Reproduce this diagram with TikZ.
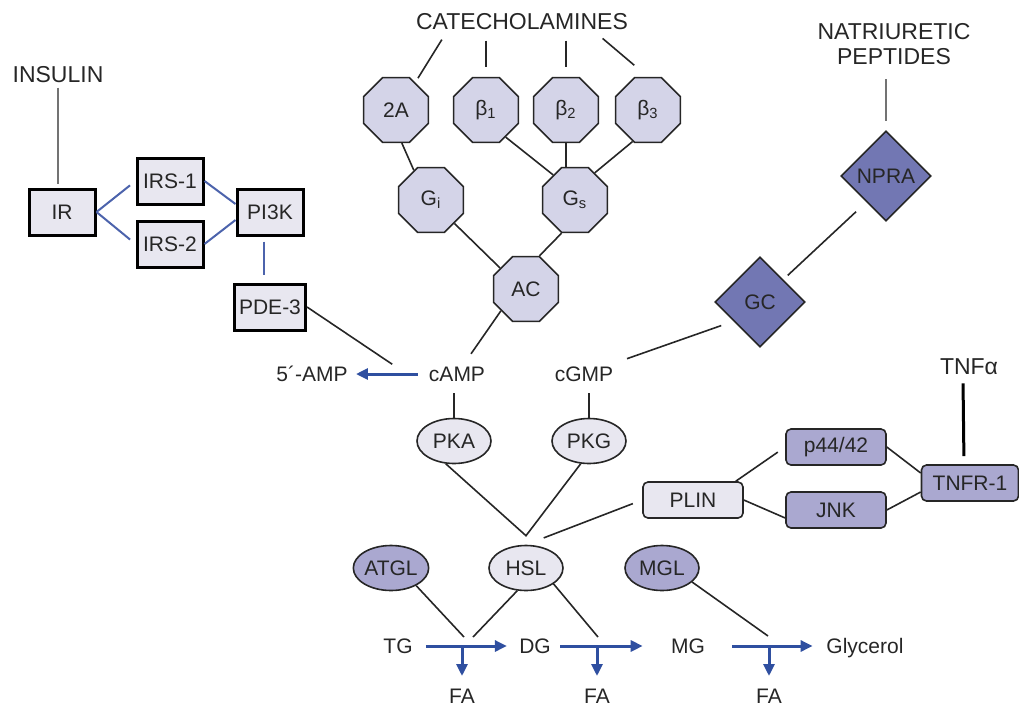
\documentclass[tikz,border=0pt]{standalone}
\usepackage{fontspec}
\setmainfont{Liberation Sans}
\usetikzlibrary{shapes.geometric,arrows.meta}

\definecolor{octfill}{HTML}{D4D4E8}
\definecolor{lightfill}{HTML}{E8E7F0}
\definecolor{midfill}{HTML}{AAA8D0}
\definecolor{darkfill}{HTML}{7277B3}
\definecolor{pathblue}{HTML}{2F4FA0}
\definecolor{insblue}{HTML}{4C63AC}
\definecolor{txt}{HTML}{262626}

\begin{document}
\begin{tikzpicture}[x=0.5pt,y=-0.5pt,
    every node/.style={font=\fontsize{10.5}{12}\selectfont, text=txt},
    met/.style={inner sep=2pt, text height=7.6pt, text depth=0pt},
    headline/.style={inner sep=2pt, font=\fontsize{11.5}{12.75}\selectfont, align=center},
    insbox/.style={draw=black, line width=1.5pt, fill=lightfill, minimum width=33pt, minimum height=23pt, inner sep=1pt},
    octa/.style={regular polygon, regular polygon sides=8, draw=black!85, line width=0.8pt, fill=octfill, minimum size=35pt, inner sep=0pt},
    dia/.style={diamond, aspect=1, draw=black!85, line width=0.8pt, fill=darkfill, minimum size=45pt, inner sep=0pt},
    kin/.style={ellipse, draw=black!85, line width=0.8pt, fill=lightfill, minimum width=37pt, minimum height=22.5pt, inner sep=0pt},
    lip/.style={kin, fill=midfill},
    rbox/.style={rounded corners=2.5pt, draw=black!85, line width=0.8pt, fill=midfill, minimum width=50pt, minimum height=18pt},
    link/.style={draw=black!85, line width=0.8pt},
    greylink/.style={draw=black!55, line width=0.8pt},
    inslink/.style={draw=insblue, line width=1pt},
    flow/.style={draw=pathblue, line width=1.5pt, -{Triangle[length=6pt,width=5.5pt]}}]
    \useasboundingbox (0,0) rectangle (1019,708);

    \node[headline] (insulin) at (58,75) {INSULIN};
    \node[insbox] (ir) at (62,212) {IR};
    \node[insbox] (irs1) at (170,181) {IRS-1};
    \node[insbox] (irs2) at (170,244) {IRS-2};
    \node[insbox] (pi3k) at (270,212) {PI3K};
    \node[insbox, minimum width=35.5pt] (pde3) at (270,307) {PDE-3};

    \node[headline] (cat) at (522,22) {CATECHOLAMINES};
    \node[octa] (a2) at (396,110) {2A};
    \node[octa] (b1) at (486,110) {β\textsubscript{1}};
    \node[octa] (b2) at (566,110) {β\textsubscript{2}};
    \node[octa] (b3) at (648,110) {β\textsubscript{3}};
    \node[octa] (gi) at (431,200) {G\textsubscript{i}};
    \node[octa] (gs) at (575,200) {G\textsubscript{s}};
    \node[octa] (ac) at (526,289) {AC};

    \node[headline] (nat) at (894,44) {NATRIURETIC\\PEPTIDES};
    \node[dia] (npra) at (886,176) {NPRA};
    \node[dia] (gc) at (760,302) {GC};

    \node[met] (amp5) at (312,374) {5´-AMP};
    \node[met] (camp) at (457,374) {cAMP};
    \node[met] (cgmp) at (584,374) {cGMP};
    \node[kin] (pka) at (454,441) {PKA};
    \node[kin] (pkg) at (589,441) {PKG};

    \node[rbox, fill=lightfill] (plin) at (693,500) {PLIN};
    \node[rbox] (p44) at (836,447) {p44/42};
    \node[rbox] (jnk) at (836,510) {JNK};
    \node[rbox, minimum width=48.5pt] (tnfr) at (970,483) {TNFR-1};
    \node[headline] (tnfa) at (969,367) {TNFα};

    \node[lip] (atgl) at (391,568) {ATGL};
    \node[kin] (hsl) at (526,568) {HSL};
    \node[lip] (mgl) at (662,568) {MGL};

    \node[met] (tg) at (398,646) {TG};
    \node[met] (dg) at (535,646) {DG};
    \node[met] (mg) at (688,646) {MG};
    \node[met] (glyc) at (865,646) {Glycerol};
    \node[met] (fa1) at (462,696) {FA};
    \node[met] (fa2) at (597,696) {FA};
    \node[met] (fa3) at (769,696) {FA};

    \coordinate (hslin) at ([yshift=4.5pt]hsl.north);
    \coordinate (r1a) at (464,637);
    \coordinate (r1b) at (473,637);
    \coordinate (r2) at (598,637);
    \coordinate (r3) at (768,636);

    \draw[greylink, shorten >=2pt] (insulin.south) -- (insulin.south |- ir.north);
    \draw[inslink, shorten >=3.5pt] (ir.east) -- (irs1.west);
    \draw[inslink, shorten >=3.5pt] (ir.east) -- (irs2.west);
    \draw[inslink] (irs1.east) -- ([yshift=4pt]pi3k.west);
    \draw[inslink] (irs2.east) -- ([yshift=-4pt]pi3k.west);
    \draw[inslink, shorten <=2.5pt, shorten >=4pt] ([xshift=-3pt]pi3k.south) -- ([xshift=-3pt]pde3.north);
    \draw[link, shorten >=19.5pt] (pde3.east) -- (camp.south west);
    \draw[flow, shorten <=3.5pt, shorten >=2pt] (camp) -- (amp5);

    \draw[link, shorten <=3pt, shorten >=2.5pt] ([xshift=-38.5pt]cat.south) -- (a2.55);
    \draw[link, shorten <=3pt, shorten >=4.75pt] (b1.north |- cat.south) -- (b1.north);
    \draw[link, shorten <=3pt, shorten >=4.75pt] (b2.north |- cat.south) -- (b2.north);
    \draw[link, shorten <=3pt, shorten >=9pt] ([xshift=38pt]cat.south) -- (b3.north);
    \draw[link] (a2.280) -- (gi.120);
    \draw[link] (b1.306) -- (gs.131);
    \draw[link] (b2.south) -- (b2.south |- gs.north);
    \draw[link] (b3.244) -- (gs.54);
    \draw[link] (gi.315) -- (ac.141);
    \draw[link] (gs.248) -- (ac.68);
    \draw[link, shorten >=5pt] (ac.221) -- (camp);

    \draw[greylink, shorten <=5pt, shorten >=4.5pt] (nat.south -| npra.north) -- (npra.north);
    \draw[link, shorten <=7pt, shorten >=3pt] (npra.233) -- (gc.44);
    \draw[link, shorten <=6.5pt, shorten >=5pt] (gc.216) -- (cgmp.north east);

    \draw[link, shorten <=3.5pt] (pka.north |- camp.south) -- (pka.north);
    \draw[link, shorten <=3.5pt] (pkg.north |- cgmp.south) -- (pkg.north);
    \draw[link] (pka.250) -- (hslin) -- (pkg.250);
    \draw[link, shorten <=5pt, shorten >=9.5pt] (plin.west) -- (hsl.north);
    \draw[link, shorten >=4.5pt] ([xshift=-4pt]plin.north east) -- (p44.west);
    \draw[link] (plin.east) -- ([yshift=-4pt]jnk.west);
    \draw[link] (p44.east) -- ([yshift=5pt]tnfr.west);
    \draw[link] (jnk.east) -- ([yshift=-4.5pt]tnfr.west);
    \draw[black, line width=1.5pt, shorten <=2pt, shorten >=4pt] ([xshift=-3pt]tnfa.south) -- ([xshift=-3pt]tnfr.north);

    \draw[link] (atgl.325) -- (r1a);
    \draw[link] (hsl.249) -- (r1b);
    \draw[link] (hsl.330) -- (r2);
    \draw[link] (mgl.335) -- (r3);
    \draw[flow, shorten <=4.5pt, shorten >=4pt] (tg) -- (dg);
    \draw[flow, shorten <=2.5pt, shorten >=12pt] (dg) -- (mg);
    \draw[flow, shorten <=11.5pt, shorten >=4.75pt] (mg) -- (glyc);
    \draw[flow, shorten >=4pt] (fa1 |- tg) -- (fa1);
    \draw[flow, shorten >=4pt] (fa2 |- dg) -- (fa2);
    \draw[flow, shorten >=4pt] (fa3 |- mg) -- (fa3);
\end{tikzpicture}
\end{document}
